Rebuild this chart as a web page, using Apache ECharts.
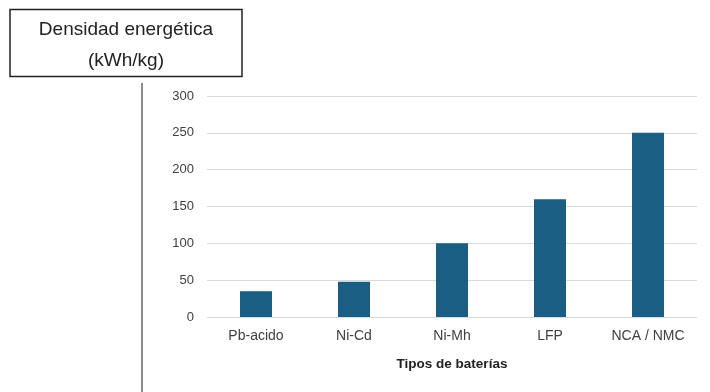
<!DOCTYPE html>
<html><head><meta charset="utf-8">
<script src="https://cdn.jsdelivr.net/npm/echarts@6/dist/echarts.min.js"></script>
<style>html,body{margin:0;padding:0;background:#fff}#c{width:710px;height:392px}</style>
</head><body><div id="c"></div>
<script>
const categories = ['Pb-acido', 'Ni-Cd', 'Ni-Mh', 'LFP', 'NCA / NMC'];
const values = [35, 48, 100, 160, 250];
const yTicks = [0, 50, 100, 150, 200, 250, 300];
const titleLines = ['Densidad energética', '(kWh/kg)'];
const xAxisName = 'Tipos de baterías';

const chart = echarts.init(document.getElementById('c'));
chart.setOption({
  animation: false,
  backgroundColor: '#fff',
  grid: {left: 207, right: 13, top: 96, bottom: 75, containLabel: false},
  xAxis: {
    type: 'category', data: categories,
    axisLine: {show: false}, axisTick: {show: false},
    axisLabel: {color: '#404040', fontSize: 14, fontFamily: 'Liberation Sans', margin: 12},
    name: xAxisName, nameLocation: 'middle', nameGap: 40,
    nameTextStyle: {color: '#222', fontSize: 13.5, fontWeight: 'bold', fontFamily: 'Liberation Sans'}
  },
  yAxis: {
    type: 'value', min: yTicks[0], max: yTicks[yTicks.length - 1], interval: 50,
    axisLine: {show: false}, axisTick: {show: false},
    axisLabel: {color: '#404040', fontSize: 13, fontFamily: 'Liberation Sans', margin: 13},
    splitLine: {lineStyle: {color: '#d9d9d9', width: 1}}
  },
  series: [{
    type: 'bar', data: values, barWidth: 32,
    itemStyle: {color: '#1b5e84'}
  }],
  graphic: [
    {type: 'rect', shape: {x: 10, y: 9.5, width: 232, height: 67},
     style: {fill: '#fff', stroke: '#222', lineWidth: 1.5}},
    {type: 'text', style: {text: titleLines[0], x: 126, y: 30, textAlign: 'center', textVerticalAlign: 'middle',
      font: '19px "Liberation Sans"', fill: '#222'}},
    {type: 'text', style: {text: titleLines[1], x: 126, y: 61, textAlign: 'center', textVerticalAlign: 'middle',
      font: '19px "Liberation Sans"', fill: '#222'}},
    {type: 'line', shape: {x1: 142, y1: 83, x2: 142, y2: 392},
     style: {stroke: '#666', lineWidth: 1.5}}
  ]
});
</script></body></html>
